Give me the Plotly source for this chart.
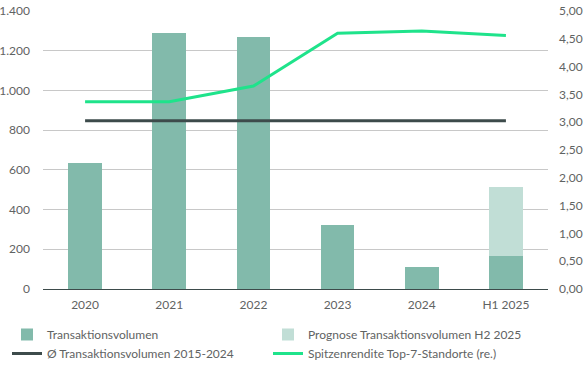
import plotly.graph_objects as go

categories = ["2020", "2021", "2022", "2023", "2024", "H1 2025"]
volume = [636, 1289, 1269, 322, 109, 165]
forecast_h2 = [None, None, None, None, None, 349]
avg_volume = [847, 847, 847, 847, 847, 847]
prime_yield = [3.37, 3.37, 3.65, 4.60, 4.64, 4.56]

left_ticks = [0, 200, 400, 600, 800, 1000, 1200, 1400]
right_ticks = [0, 0.5, 1.0, 1.5, 2.0, 2.5, 3.0, 3.5, 4.0, 4.5, 5.0]

FONT = "Lato"
TXT = "#5f6363"

fig = go.Figure()
fig.add_trace(go.Bar(x=categories, y=volume, name="Transaktionsvolumen", legend="legend",
                     marker=dict(color="#82baab", line=dict(width=0)), width=0.4))
fig.add_trace(go.Bar(x=categories, y=forecast_h2, name="Prognose Transaktionsvolumen H2 2025",
                     legend="legend2",
                     marker=dict(color="#c1ded6", line=dict(width=0)), width=0.4))
fig.add_trace(go.Scatter(x=categories, y=avg_volume, name="Ø Transaktionsvolumen 2015-2024",
                         legend="legend",
                         mode="lines", line=dict(color="#3d4b4b", width=3)))
fig.add_trace(go.Scatter(x=categories, y=prime_yield, name="Spitzenrendite Top-7-Standorte (re.)",
                         legend="legend2",
                         mode="lines", line=dict(color="#1fe38b", width=3), yaxis="y2"))

leg_common = dict(orientation="h", xref="container", yref="container",
                  y=0.1257, xanchor="left", yanchor="top",
                  entrywidth=235, entrywidthmode="pixels", traceorder="normal",
                  font=dict(size=12, color=TXT), itemwidth=30, bgcolor="rgba(0,0,0,0)")

fig.update_layout(
    width=588, height=366,
    barmode="stack",
    separators=",.",
    paper_bgcolor="white", plot_bgcolor="white",
    margin=dict(l=43, r=40, t=11, b=77),
    font=dict(family=FONT, size=12, color=TXT),
    xaxis=dict(showgrid=False, showline=True, linecolor="#3d4b4b", linewidth=1,
               ticks="", ticklabelstandoff=5, tickfont=dict(size=12, color=TXT),
               automargin=False),
    yaxis=dict(range=[0, 1400], tickvals=left_ticks, tickformat=",d",
               showgrid=True, gridcolor="#c8c8c8", gridwidth=1, zeroline=False,
               ticklabelstandoff=12, tickfont=dict(size=12, color=TXT), automargin=False),
    yaxis2=dict(range=[0, 5], tickvals=right_ticks, tickformat=".2f", overlaying="y",
                side="right", showgrid=False, zeroline=False, automargin=False,
                ticklabelstandoff=10, tickfont=dict(size=12, color=TXT)),
    legend=dict(leg_common, x=7 / 588),
    legend2=dict(leg_common, x=268 / 588),
    showlegend=True,
)

fig.write_html("out.html", config={"displayModeBar": False},
               post_script="document.body.style.margin='0';document.body.style.padding='0';")
